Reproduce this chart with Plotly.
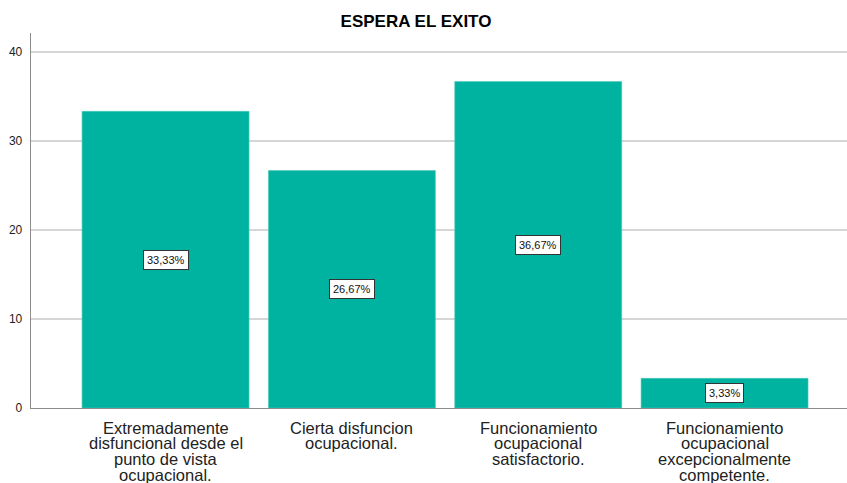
import plotly.graph_objects as go

title_text = "ESPERA EL EXITO"
categories = [
    ["Extremadamente", "disfuncional desde el", "punto de vista", "ocupacional."],
    ["Cierta disfuncion", "ocupacional."],
    ["Funcionamiento", "ocupacional", "satisfactorio."],
    ["Funcionamiento", "ocupacional", "excepcionalmente", "competente."],
]
percent_values = [33.33, 26.67, 36.67, 3.33]
y_ticks = [0, 10, 20, 30, 40]

BAR_COLOR = "#00B3A0"
x_pos = list(range(len(categories)))

W, H = 847, 483

fig = go.Figure()
fig.add_trace(go.Bar(
    x=x_pos,
    y=percent_values,
    marker=dict(color=BAR_COLOR, line=dict(color="#4cc9bb", width=0.6)),
    width=0.896,
    hoverinfo="skip",
))

annotations = []
# value labels
for xi, v in zip(x_pos, percent_values):
    annotations.append(dict(
        x=xi, y=v / 2, xref="x", yref="y",
        text=f"{v:.2f}%".replace(".", ","),
        showarrow=False,
        font=dict(family="Arial, Liberation Sans, sans-serif", size=11, color="#111111"),
        bgcolor="white", bordercolor="#333333", borderwidth=1, borderpad=3,
        xanchor="center", yanchor="middle",
    ))
# category labels, one annotation per line
for xi, lines in zip(x_pos, categories):
    for li, line in enumerate(lines):
        annotations.append(dict(
            x=xi, y=0, xref="x", yref="y",
            text=line, showarrow=False,
            font=dict(family="Arial, Liberation Sans, sans-serif", size=16.5, color="#222222"),
            xanchor="center", yanchor="middle",
            yshift=-(19.5 + 15.8 * li),
        ))

fig.update_layout(
    width=W, height=H,
    margin=dict(l=31, r=0, t=33, b=75),
    paper_bgcolor="white", plot_bgcolor="white",
    showlegend=False,
    title=dict(
        text="<b>" + title_text + "</b>",
        x=416 / W, xref="container", xanchor="center",
        y=1 - 21 / H, yref="container", yanchor="middle",
        font=dict(family="Arial, Liberation Sans, sans-serif", size=17, color="#000000"),
    ),
    xaxis=dict(
        range=[-0.722, 3.657],
        showticklabels=False, showgrid=False, zeroline=False,
        showline=True, linecolor="#8c8c8c", linewidth=1.3,
        fixedrange=True, automargin=False,
    ),
    yaxis=dict(
        range=[0, 42.13],
        tickvals=y_ticks,
        ticktext=[str(t) for t in y_ticks],
        showgrid=True, gridcolor="#d6d6d6", gridwidth=1.5,
        zeroline=False,
        showline=True, linecolor="#8c8c8c", linewidth=1.3,
        tickfont=dict(family="Arial, Liberation Sans, sans-serif", size=12, color="#222222"),
        ticks="", ticklabelstandoff=5,
        fixedrange=True, automargin=False,
    ),
    annotations=annotations,
)

fig.write_html(
    "out.html",
    config={"displayModeBar": False, "staticPlot": True},
    post_script="document.body.style.margin='0';document.body.style.overflow='hidden';",
)
